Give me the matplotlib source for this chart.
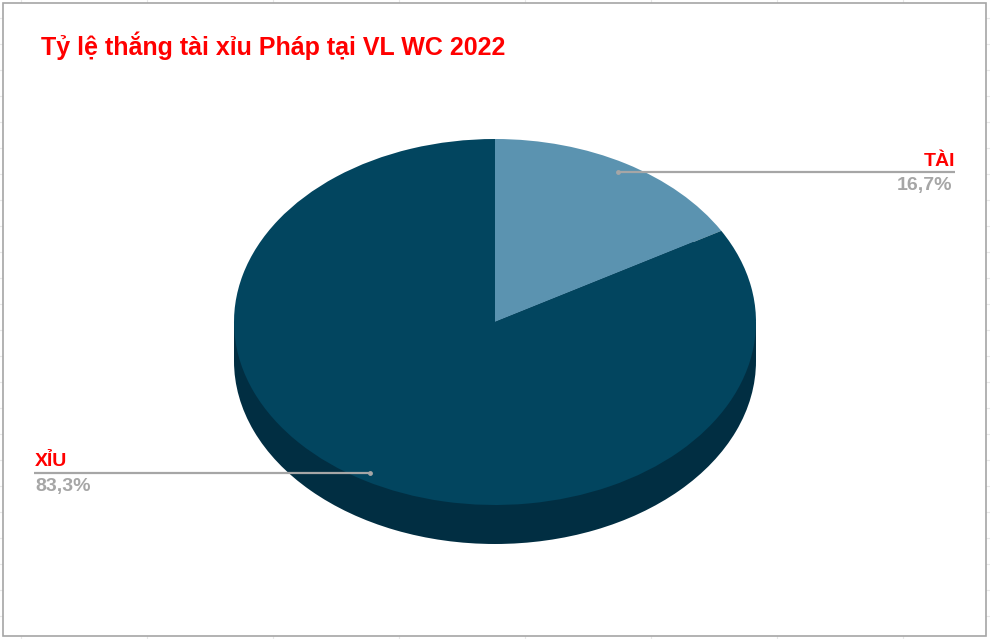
import numpy as np
import matplotlib
matplotlib.use("Agg")
import matplotlib.pyplot as plt
from matplotlib.patches import Wedge, Rectangle
from matplotlib.transforms import Affine2D

title = "Tỷ lệ thắng tài xỉu Pháp tại VL WC 2022"
categories = ["TÀI", "XỈU"]
values = [16.7, 83.3]
value_labels = ["16,7%", "83,3%"]
top_colors = ["#5B93B0", "#02455F"]
side_color = "#012E42"

plt.rcParams["font.family"] = ["Liberation Sans", "DejaVu Sans"]
fig = plt.figure(figsize=(9.9, 6.39), dpi=100, facecolor="white")
ax = fig.add_axes([0, 0, 1, 1])
ax.set_xlim(0, 990)
ax.set_ylim(639, 0)
ax.axis("off")

# spreadsheet gridlines peeking out around the chart frame
for y in np.arange(18, 639, 26):
    ax.plot([0, 990], [y, y], color="#E8E8E8", lw=0.8, zorder=0)
for x in np.arange(20.5, 990, 126):
    ax.plot([x, x], [0, 639], color="#E8E8E8", lw=0.8, zorder=0)
ax.add_patch(Rectangle((2.5, 2.5), 983, 633, fc="white", ec="#A6A6A6", lw=1.2, zorder=1))

cx, cy, rx, ry, depth = 495, 322, 261, 183, 39


def place(dy=0):
    # unit circle with y up -> squashed ellipse in pixel data coordinates
    return Affine2D().scale(rx, -ry).translate(cx, cy + dy) + ax.transData


# side wall
ax.add_patch(Wedge((0, 0), 1, 0, 360, fc=side_color, ec="none", transform=place(depth), zorder=2))
ax.add_patch(Rectangle((cx - rx, cy), 2 * rx, depth, fc=side_color, ec="none", zorder=2))

# top face, clockwise from 12 o'clock
total = sum(values)
start = 90.0
for val, col in zip(values, top_colors):
    end = start - 360.0 * val / total
    ax.add_patch(Wedge((0, 0), 1, end, start, fc=col, ec="none", transform=place(), zorder=3))
    start = end

# leader lines and labels
leaders = [(618, 955, 172), (370, 34, 473)]
for (x0, x1, y) in leaders:
    ax.plot([x0, x1], [y, y], color="#A6A6A6", lw=1.6, zorder=4, solid_capstyle="butt")
    ax.plot([x0], [y], "o", ms=3.5, color="#A6A6A6", mec="none", zorder=5)

ax.text(955, 166, categories[0], color="#FF0000", fontsize=14, fontweight="bold", ha="right", va="baseline", zorder=6)
ax.text(952, 190, value_labels[0], color="#A6A6A6", fontsize=14, fontweight="bold", ha="right", va="baseline", zorder=6)
ax.text(35, 466, categories[1], color="#FF0000", fontsize=14, fontweight="bold", ha="left", va="baseline", zorder=6)
ax.text(35, 490.5, value_labels[1], color="#A6A6A6", fontsize=14, fontweight="bold", ha="left", va="baseline", zorder=6)
ax.text(41, 55, title, color="#FF0000", fontsize=18, fontweight="bold", ha="left", va="baseline", zorder=6)

fig.savefig("out.png", dpi=100, facecolor="white")
